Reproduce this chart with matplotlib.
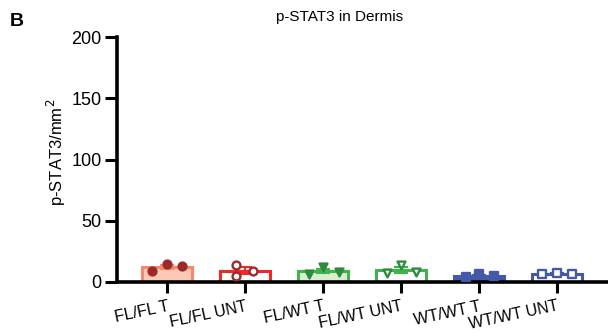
import matplotlib
matplotlib.use("Agg")
import matplotlib.pyplot as plt
import numpy as np

plt.rcParams['font.family'] = ['Liberation Sans', 'DejaVu Sans']

categories = ["FL/FL T", "FL/FL UNT", "FL/WT T", "FL/WT UNT", "WT/WT T", "WT/WT UNT"]
points = [
    [9.0, 14.7, 13.0],
    [13.9, 4.9, 9.0],
    [6.5, 12.2, 8.2],
    [7.3, 13.9, 8.2],
    [4.1, 6.5, 4.9],
    [6.5, 7.3, 6.5],
]
edge_colors = ["#F4896C", "#EE2A24", "#3DB54A", "#3DB54A", "#4459AA", "#4459AA"]
fill_colors = ["#FBC9B6", "#FFFFFF", "#D9EDD0", "#FFFFFF", "#4459AA", "#FFFFFF"]
marker_colors = ["#9B2B2B", "#9B2B2B", "#2E8B3E", "#2E8B3E", "#4459AA", "#4459AA"]
markers = ["o", "o", "v", "v", "s", "s"]
marker_filled = [True, False, True, False, True, False]
jitter = [
    [-0.19, 0.0, 0.19],
    [-0.11, -0.11, 0.1],
    [-0.18, 0.0, 0.2],
    [-0.18, 0.0, 0.19],
    [-0.17, 0.0, 0.19],
    [-0.19, 0.0, 0.19],
]

fig = plt.figure(figsize=(6.08, 3.33), dpi=100)
ax = fig.add_axes([117/608, 1-282/333, 1-117/608, (282-37)/333])

x = np.arange(len(categories))
for i, vals in enumerate(points):
    v = np.array(vals)
    m = v.mean()
    sem = v.std(ddof=1) / np.sqrt(len(v))
    ax.bar(x[i], m, width=0.64, color=fill_colors[i], edgecolor=edge_colors[i],
           linewidth=2.2, zorder=2)
    ax.errorbar(x[i], m, yerr=sem, color=edge_colors[i], capsize=5, capthick=1.5,
                elinewidth=1.5, zorder=3)
    ax.plot([x[i] - 0.13, x[i] + 0.13], [m, m], color=edge_colors[i], lw=1.5, zorder=3)
    ax.scatter(x[i] + np.array(jitter[i]), v, marker=markers[i], s=32,
               facecolors=marker_colors[i] if marker_filled[i] else "white",
               edgecolors=marker_colors[i], linewidths=1.7, zorder=4)

ax.set_xlim(-0.64, 5.65)
ax.set_ylim(0, 200)
ax.set_yticks([0, 50, 100, 150, 200])
ax.set_xticks(x)
ax.set_xticklabels(categories, rotation=12, ha='right', fontsize=11.5,
                   rotation_mode='anchor')
ax.tick_params(axis='y', labelsize=13, width=2.2, length=9, pad=2)
ax.tick_params(axis='x', width=2.2, length=8, pad=4)
for s in ['top', 'right']:
    ax.spines[s].set_visible(False)
for s in ['left', 'bottom']:
    ax.spines[s].set_linewidth(2.6)
ax.set_ylabel("p-STAT3/mm$^2$", fontsize=12)
ax.yaxis.set_label_coords(-0.1, 0.53)
fig.text(340/608, 1-17/333, "p-STAT3 in Dermis", fontsize=11, ha='center', va='center')
fig.text(0.016, 1-22/333, "B", fontsize=14, fontweight='bold', va='center')

fig.savefig("out.png", dpi=100)
